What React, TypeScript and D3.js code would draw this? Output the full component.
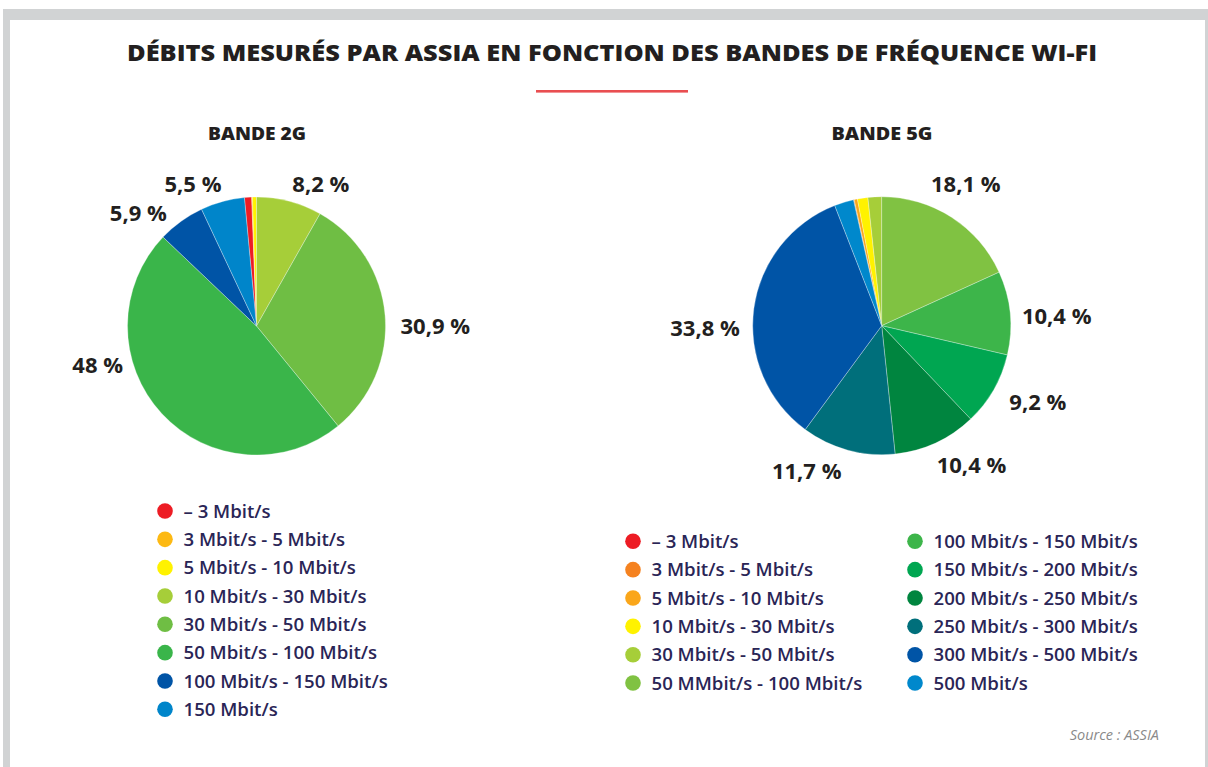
import React from "react";
import * as d3 from "d3";

// ---------- DATA ----------
const TITLE = "DÉBITS MESURÉS PAR ASSIA EN FONCTION DES BANDES DE FRÉQUENCE WI-FI";
const SOURCE = "Source : ASSIA";

const band2gTitle = "BANDE 2G";
const band2gCategories = [
  "– 3 Mbit/s",
  "3 Mbit/s - 5 Mbit/s",
  "5 Mbit/s - 10 Mbit/s",
  "10 Mbit/s - 30 Mbit/s",
  "30 Mbit/s - 50 Mbit/s",
  "50 Mbit/s - 100 Mbit/s",
  "100 Mbit/s - 150 Mbit/s",
  "150 Mbit/s",
];
const band2gValues = [0.9, 0.1, 0.5, 8.2, 30.9, 48, 5.9, 5.5];
const band2gLabels = ["", "", "", "8,2 %", "30,9 %", "48 %", "5,9 %", "5,5 %"];
const band2gColors = ["#ed1c24", "#fdb913", "#fff200", "#a6ce39", "#6fbe44", "#3ab54a", "#0054a6", "#0085ca"];
const band2gStart = "10 Mbit/s - 30 Mbit/s";

const band5gTitle = "BANDE 5G";
const band5gCategories = [
  "– 3 Mbit/s",
  "3 Mbit/s - 5 Mbit/s",
  "5 Mbit/s - 10 Mbit/s",
  "10 Mbit/s - 30 Mbit/s",
  "30 Mbit/s - 50 Mbit/s",
  "50 MMbit/s - 100 Mbit/s",
  "100 Mbit/s - 150 Mbit/s",
  "150 Mbit/s - 200 Mbit/s",
  "200 Mbit/s - 250 Mbit/s",
  "250 Mbit/s - 300 Mbit/s",
  "300 Mbit/s - 500 Mbit/s",
  "500 Mbit/s",
];
const band5gValues = [0, 0.1, 0.4, 1.3, 1.7, 18.1, 10.4, 9.2, 10.4, 11.7, 33.8, 2.4];
const band5gLabels = ["", "", "", "", "", "18,1 %", "10,4 %", "9,2 %", "10,4 %", "11,7 %", "33,8 %", ""];
const band5gColors = [
  "#ed1c24", "#f58220", "#faa61a", "#fff200", "#a6ce39", "#80c242",
  "#3db54a", "#00a651", "#00853f", "#006f7b", "#0054a6", "#0088cc",
];
const band5gStart = "50 MMbit/s - 100 Mbit/s";

// ---------- LAYOUT (positions/styles, separate from data) ----------
const W = 1208;
const H = 767;
const R = 129;
const pie2g = { cx: 256.5, cy: 326 };
const pie5g = { cx: 881.7, cy: 325.7 };
// label anchor offsets from pie centre (text-anchor middle, baseline)
const label2gOffsets: Record<string, [number, number]> = {
  "10 Mbit/s - 30 Mbit/s": [64.3, -133.7],
  "30 Mbit/s - 50 Mbit/s": [178.8, 8.3],
  "50 Mbit/s - 100 Mbit/s": [-158.8, 46.7],
  "100 Mbit/s - 150 Mbit/s": [-118.2, -105],
  "150 Mbit/s": [-63.5, -133.7],
};
const label5gOffsets: Record<string, [number, number]> = {
  "50 MMbit/s - 100 Mbit/s": [84.1, -133.4],
  "100 Mbit/s - 150 Mbit/s": [175, -1.7],
  "150 Mbit/s - 200 Mbit/s": [156.1, 84.3],
  "200 Mbit/s - 250 Mbit/s": [89.8, 147.6],
  "250 Mbit/s - 300 Mbit/s": [-75, 153.6],
  "300 Mbit/s - 500 Mbit/s": [-176.7, 10],
};

const LABEL_FONT = "'Open Sans', 'DejaVu Sans', sans-serif";
const TEXT_DARK = "#231f20";
const LEGEND_COLOR = "#2a2556";

type PieProps = {
  cx: number;
  cy: number;
  categories: string[];
  values: number[];
  colors: string[];
  labels: string[];
  start: string;
  offsets: Record<string, [number, number]>;
};

function Pie({ cx, cy, categories, values, colors, labels, start, offsets }: PieProps) {
  const total = d3.sum(values);
  const startIdx = categories.indexOf(start);
  const before = d3.sum(values.slice(0, startIdx));
  const offset = (before / total) * Math.PI * 2;
  const data = categories.map((c, i) => ({ c, v: values[i], color: colors[i], label: labels[i] }));
  const arcs = d3
    .pie<any>()
    .sort(null)
    .value((d: any) => d.v)
    .startAngle(-offset)
    .endAngle(Math.PI * 2 - offset)(data);
  const arc = d3.arc<any>().innerRadius(0).outerRadius(R);
  return (
    <g transform={`translate(${cx},${cy})`}>
      {arcs.map((a, i) =>
        a.data.v > 0 ? (
          <path key={i} d={arc(a) as string} fill={a.data.color} stroke="#ffffff" strokeWidth={0.5} strokeOpacity={0.6} />
        ) : null
      )}
      {arcs.map((a, i) => {
        const off = offsets[a.data.c];
        if (!a.data.label || !off) return null;
        return (
          <text
            key={"l" + i}
            x={off[0]}
            y={off[1]}
            textAnchor="middle"
            fontFamily={LABEL_FONT}
            fontWeight={700}
            fontSize={22}
            fill={TEXT_DARK}
          >
            {a.data.label}
          </text>
        );
      })}
    </g>
  );
}

type LegendProps = {
  x: number;
  y: number;
  categories: string[];
  colors: string[];
  rows: number;
  colGap: number;
  rowGap: number;
};

function Legend({ x, y, categories, colors, rows, colGap, rowGap }: LegendProps) {
  return (
    <g>
      {categories.map((c, i) => {
        const col = Math.floor(i / rows);
        const row = i % rows;
        const dx = x + col * colGap;
        const dy = y + row * rowGap;
        return (
          <g key={i}>
            <circle cx={dx} cy={dy} r={7.8} fill={colors[i]} />
            <text
              x={dx + 18.5}
              y={dy + 6.7}
              fontFamily={LABEL_FONT}
              fontWeight={600}
              fontSize={18.6}
              fill={LEGEND_COLOR}
            >
              {c}
            </text>
          </g>
        );
      })}
    </g>
  );
}

export default function App() {
  return (
    <svg
      width={W}
      height={H}
      viewBox={`0 0 ${W} ${H}`}
      style={{ position: "absolute", left: 0, top: 0, display: "block" }}
    >
      <rect x={0} y={0} width={W} height={H} fill="#ffffff" />
      <rect x={3} y={9} width={W - 3} height={H - 9} fill="#d1d3d4" />
      <rect x={10} y={20} width={1195} height={H - 20} fill="#ffffff" />

      <text
        x={612}
        y={61}
        textAnchor="middle"
        fontFamily={LABEL_FONT}
        fontWeight={800}
        fontSize={22}
        fill={TEXT_DARK}
        textLength={970}
        lengthAdjust="spacingAndGlyphs"
      >
        {TITLE}
      </text>
      <rect x={536} y={90} width={152} height={2.6} fill="#e94e51" />

      <text
        x={257}
        y={140}
        textAnchor="middle"
        fontFamily={LABEL_FONT}
        fontWeight={800}
        fontSize={17}
        fill={TEXT_DARK}
        textLength={98}
        lengthAdjust="spacingAndGlyphs"
      >
        {band2gTitle}
      </text>
      <text
        x={882}
        y={140}
        textAnchor="middle"
        fontFamily={LABEL_FONT}
        fontWeight={800}
        fontSize={17}
        fill={TEXT_DARK}
        textLength={101}
        lengthAdjust="spacingAndGlyphs"
      >
        {band5gTitle}
      </text>

      <Pie
        cx={pie2g.cx}
        cy={pie2g.cy}
        categories={band2gCategories}
        values={band2gValues}
        colors={band2gColors}
        labels={band2gLabels}
        start={band2gStart}
        offsets={label2gOffsets}
      />
      <Pie
        cx={pie5g.cx}
        cy={pie5g.cy}
        categories={band5gCategories}
        values={band5gValues}
        colors={band5gColors}
        labels={band5gLabels}
        start={band5gStart}
        offsets={label5gOffsets}
      />

      <Legend x={165} y={511} categories={band2gCategories} colors={band2gColors} rows={8} colGap={0} rowGap={28.33} />
      <Legend x={633} y={541.3} categories={band5gCategories} colors={band5gColors} rows={6} colGap={282} rowGap={28.35} />

      <text
        x={1159}
        y={740}
        textAnchor="end"
        fontFamily={LABEL_FONT}
        fontStyle="italic"
        fontSize={14.5}
        fill="#8a8a8a"
      >
        {SOURCE}
      </text>
    </svg>
  );
}
